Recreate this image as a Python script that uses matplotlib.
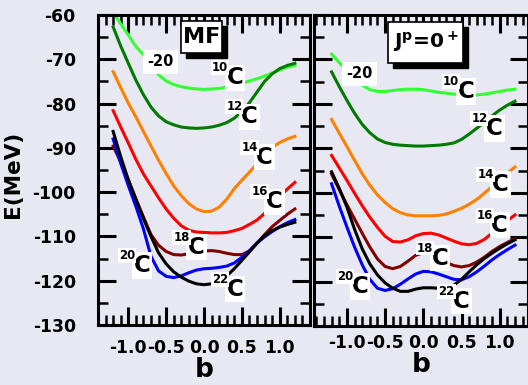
import matplotlib
matplotlib.use('Agg')
import matplotlib.pyplot as plt
from matplotlib.ticker import MultipleLocator
from matplotlib.transforms import offset_copy
from matplotlib.patches import Rectangle

plt.rcParams['font.family'] = 'DejaVu Sans'
plt.rcParams['font.weight'] = 'bold'
plt.rcParams['mathtext.default'] = 'bf'
plt.rcParams['axes.unicode_minus'] = False

# deformation grid
beta = [-1.2, -1.1, -1.0, -0.9, -0.8, -0.7, -0.6, -0.5, -0.4, -0.3, -0.2, -0.1,
        0.0, 0.1, 0.2, 0.3, 0.4, 0.5, 0.6, 0.7, 0.8, 0.9, 1.0, 1.1, 1.2]

# mean field (MF) energies, MeV
mf_c10 = [-59.4, -62.0, -64.5, -67.1, -69.0, -71.5, -73.5, -74.9, -75.7, -76.2, -76.5, -76.7,
          -76.8, -76.7, -76.6, -76.3, -75.9, -75.4, -74.9, -74.4, -73.8, -73.1, -72.4, -71.8, -71.4]
mf_c12 = [-62.7, -67.0, -70.9, -74.7, -78.0, -80.8, -82.8, -84.1, -84.8, -85.3, -85.5, -85.6,
          -85.5, -85.3, -84.9, -84.3, -83.3, -81.8, -79.8, -77.4, -75.0, -73.3, -72.1, -71.4, -70.9]
mf_c14 = [-72.8, -76.4, -79.9, -83.0, -86.3, -89.6, -92.8, -95.8, -98.6, -100.8, -102.6, -103.8,
          -104.4, -104.3, -103.4, -101.6, -99.2, -97.3, -95.5, -93.6, -91.6, -89.9, -88.8, -88.0, -87.4]
mf_c16 = [-81.6, -85.3, -88.9, -92.6, -95.9, -98.6, -101.3, -103.8, -105.9, -107.6, -108.6, -109.0,
          -109.1, -109.2, -109.2, -109.1, -108.7, -108.2, -107.3, -106.3, -104.8, -102.9, -101.0, -99.3, -97.8]
mf_c18 = [-89.6, -93.2, -97.2, -101.5, -105.6, -109.6, -112.0, -113.4, -114.1, -114.2, -113.9, -113.5,
          -113.3, -113.2, -113.4, -113.8, -114.1, -114.1, -113.3, -111.6, -109.6, -107.8, -106.4, -105.0, -103.8]
mf_c20 = [-88.0, -93.5, -98.5, -103.2, -108.3, -114.5, -117.8, -119.0, -119.3, -118.9, -118.2, -117.6,
          -117.3, -117.2, -117.0, -116.7, -116.0, -114.7, -113.2, -111.5, -110.1, -108.9, -107.8, -106.9, -106.2]
mf_c22 = [-86.3, -92.0, -97.2, -101.6, -106.0, -110.0, -113.7, -116.2, -118.0, -119.2, -120.1, -120.7,
          -120.9, -120.7, -120.0, -118.9, -117.3, -115.4, -113.5, -111.5, -109.8, -108.7, -107.9, -107.3, -106.8]

# projected J^p = 0+ energies, MeV
j0_c10 = [-68.8, -70.7, -72.6, -74.3, -75.8, -76.8, -77.2, -77.2, -77.0, -76.8, -76.7, -76.7,
          -76.8, -77.1, -77.4, -77.6, -77.8, -78.0, -78.1, -78.0, -77.8, -77.5, -77.2, -76.9, -76.7]
j0_c12 = [-72.8, -76.1, -79.2, -82.1, -84.6, -86.5, -87.9, -88.7, -89.1, -89.3, -89.4, -89.5,
          -89.5, -89.4, -89.3, -89.1, -88.8, -88.0, -86.8, -85.5, -84.1, -82.7, -81.4, -80.3, -79.4]
j0_c14 = [-83.5, -86.6, -89.6, -92.7, -95.7, -98.3, -100.5, -102.2, -103.6, -104.5, -105.0, -105.2,
          -105.2, -105.2, -105.1, -104.8, -104.2, -103.5, -102.6, -101.5, -100.1, -98.6, -97.1, -95.6, -94.2]
j0_c16 = [-91.6, -94.4, -97.2, -100.1, -102.9, -105.5, -107.8, -109.8, -111.0, -111.1, -110.6, -109.7,
          -109.2, -109.1, -109.5, -110.2, -110.9, -111.5, -111.7, -111.4, -110.5, -109.1, -107.6, -106.3, -105.0]
j0_c18 = [-95.8, -99.3, -102.7, -105.9, -109.1, -112.2, -114.9, -116.6, -117.1, -116.6, -115.4, -114.1,
          -113.5, -113.6, -114.5, -115.7, -116.4, -116.7, -116.4, -115.6, -114.5, -113.2, -112.1, -111.2, -110.3]
j0_c20 = [-98.0, -103.0, -107.7, -112.2, -116.2, -119.5, -121.5, -122.0, -121.6, -120.6, -119.4, -118.3,
          -117.7, -117.8, -118.3, -118.9, -119.5, -119.6, -118.9, -117.8, -116.5, -115.1, -113.9, -112.8, -111.8]
j0_c22 = [-95.3, -99.0, -103.2, -108.2, -112.6, -116.0, -118.5, -120.3, -121.5, -122.2, -122.2, -121.7,
          -121.4, -121.4, -121.5, -121.4, -120.8, -119.5, -117.8, -116.2, -114.8, -113.6, -112.5, -111.5, -110.6]

masses = ['10', '12', '14', '16', '18', '20', '22']
colors = ['#33ff33', '#007a00', '#ff8000', '#ff0000', '#800000', '#0000ff', '#000000']
mf_curves = [mf_c10, mf_c12, mf_c14, mf_c16, mf_c18, mf_c20, mf_c22]
j0_curves = [j0_c10, j0_c12, j0_c14, j0_c16, j0_c18, j0_c20, j0_c22]

# label spots (position of the "C"), one per nucleus
mf_lab = [(0.41, -74.2), (0.60, -83.0), (0.80, -92.1), (0.93, -102.2),
          (-0.10, -112.4), (-0.82, -116.5), (0.41, -121.9)]
j0_lab = [(0.56, -77.2), (0.93, -85.6), (1.01, -98.1), (1.00, -107.3),
          (0.22, -114.7), (-0.83, -121.1), (0.50, -124.4)]

bg = '#e8e8f2'
fig = plt.figure(figsize=(5.28, 3.85), dpi=100, facecolor=bg)
ax1 = fig.add_axes([98/528, 1-325/385, 212/528, 310/385])
ax2 = fig.add_axes([314/528, 1-326/385, 214/528, 311/385])

white = dict(boxstyle='square,pad=0.08', fc='white', ec='none')


def style(ax, xlim, ylabels, xpad, bpad):
    ax.set_facecolor(bg)
    ax.set_xlim(*xlim)
    ax.set_ylim(-130, -60)
    ax.xaxis.set_minor_locator(MultipleLocator(0.1))
    ax.yaxis.set_major_locator(MultipleLocator(10))
    ax.yaxis.set_minor_locator(MultipleLocator(5))
    ax.set_xticks([-1.0, -0.5, 0.0, 0.5, 1.0])
    ax.set_xticklabels(['-1.0', '-0.5', '0.0', '0.5', '1.0'])
    for s in ax.spines.values():
        s.set_linewidth(2.2)
    ax.tick_params(which='both', direction='in', top=True, right=True, labelsize=12.4)
    ax.tick_params(which='major', length=13, width=2.2)
    ax.tick_params(which='minor', length=7, width=1.8)
    ax.tick_params(axis='y', pad=16)
    ax.tick_params(axis='x', pad=xpad)
    if not ylabels:
        ax.tick_params(axis='y', labelleft=False)
    for t in ax.get_xticklabels() + ax.get_yticklabels():
        t.set_fontweight('bold')
    ax.set_xlabel('b', fontsize=19, fontweight='bold', labelpad=bpad)


def draw(ax, curves, labs, m20, box, tag):
    for y, c in zip(curves, colors):
        ax.plot(beta, y, color=c, lw=2.2, solid_joinstyle='round')
    for (bx, ey), m in zip(labs, masses):
        ax.text(bx, ey, 'C', fontsize=16.5, fontweight='bold', ha='center',
                va='center', bbox=white, zorder=5)
        sup = offset_copy(ax.transData, fig=fig, x=-15, y=10, units='dots')
        ax.text(bx, ey, m, fontsize=8.5, fontweight='bold', ha='center',
                va='center', bbox=white, transform=sup, zorder=5)
    ax.text(m20[0], m20[1], '-20', fontsize=10.5, fontweight='bold', ha='center',
            va='center', bbox=dict(boxstyle='square,pad=0.3', fc='white', ec='none'),
            zorder=5)
    x0, y0, w, h = box
    sh = offset_copy(ax.transAxes, fig=fig, x=5, y=-5, units='dots')
    ax.add_patch(Rectangle((x0, y0), w, h, transform=sh, fc='black', ec='black',
                           zorder=6, clip_on=False))
    ax.add_patch(Rectangle((x0, y0), w, h, transform=ax.transAxes, fc='white',
                           ec='black', lw=1.2, zorder=7, clip_on=False))
    ax.text(x0 + w/2, y0 + h/2, tag[0], fontsize=tag[1], fontweight='bold',
            ha='center', va='center', transform=ax.transAxes, zorder=8)


style(ax1, (-1.4, 1.4), True, 10, 0)
style(ax2, (-1.43, 1.37), False, 6, 0)

draw(ax1, mf_curves, mf_lab, (-0.57, -70.6), (0.392, 0.877, 0.193, 0.104), ('MF', 16))
draw(ax2, j0_curves, j0_lab, (-0.84, -73.2), (0.346, 0.846, 0.350, 0.131),
     (r'J$^\mathrm{p}$=0$^+$', 14.5))

fig.text(13/528, 1-174/385, 'E(MeV)', rotation=90, fontsize=15.5, fontweight='bold',
         ha='center', va='center')

fig.savefig('out.png', dpi=100, facecolor=bg)
